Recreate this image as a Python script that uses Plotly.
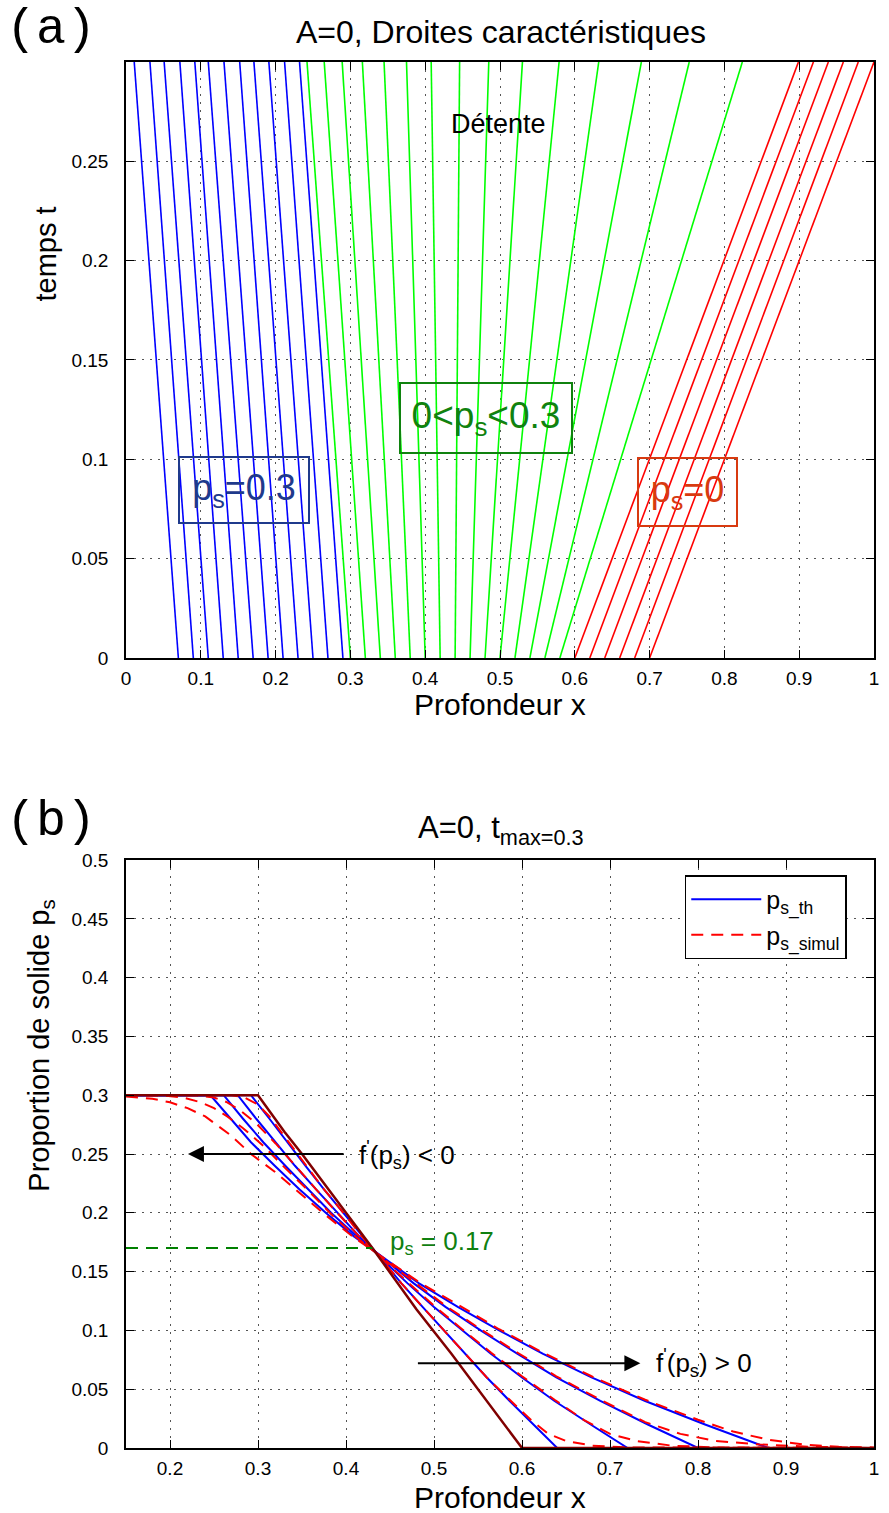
import plotly.graph_objects as go

# ---- (a) characteristic lines : position at t=0 and at t=0.3
t_span = [0.0, 0.3]
blue_x0 = [0.07, 0.09, 0.11, 0.13, 0.15, 0.17, 0.19, 0.21, 0.23, 0.25, 0.27, 0.29]
blue_x1 = [0.011, 0.032, 0.051, 0.072, 0.092, 0.110, 0.131, 0.152, 0.171, 0.191, 0.212, 0.232]
green_x0 = [0.30, 0.32, 0.34, 0.36, 0.38, 0.40, 0.42, 0.44, 0.46, 0.48, 0.50, 0.52, 0.54, 0.56, 0.58]
green_x1 = [0.242, 0.265, 0.289, 0.316, 0.345, 0.375, 0.408, 0.446, 0.485, 0.530, 0.579, 0.632, 0.689, 0.753, 0.824]
red_x0 = [0.60, 0.62, 0.64, 0.66, 0.68, 0.70]
red_x1 = [0.899, 0.919, 0.939, 0.959, 0.979, 1.0]

# ---- (b) profils p_s(x) a differents temps
init_x = [0.15, 0.30, 0.33, 0.35, 0.43, 0.48, 0.52, 0.60, 1.0]
init_p = [0.30, 0.30, 0.269, 0.250, 0.170, 0.118, 0.080, 0.0, 0.0]

th_p = [0.30, 0.30, 0.28, 0.26, 0.24, 0.22, 0.20, 0.18, 0.16, 0.14, 0.12, 0.10, 0.08, 0.06, 0.04, 0.02, 0.0, 0.0]
th_x_1 = [0.15, 0.292, 0.313, 0.333, 0.354, 0.375, 0.397, 0.418, 0.441, 0.463, 0.487, 0.511, 0.535, 0.560, 0.586, 0.613, 0.640, 1.0]
th_x_2 = [0.15, 0.277, 0.298, 0.320, 0.342, 0.366, 0.390, 0.415, 0.442, 0.470, 0.500, 0.532, 0.565, 0.600, 0.637, 0.678, 0.720, 1.0]
th_x_3 = [0.15, 0.261, 0.283, 0.306, 0.331, 0.357, 0.383, 0.412, 0.444, 0.477, 0.513, 0.553, 0.595, 0.639, 0.689, 0.743, 0.800, 1.0]
th_x_4 = [0.15, 0.246, 0.269, 0.292, 0.319, 0.347, 0.377, 0.409, 0.446, 0.483, 0.527, 0.574, 0.624, 0.679, 0.740, 0.808, 0.880, 1.0]

sim_x_1 = [0.15, 0.27, 0.285, 0.30, 0.313, 0.333, 0.354, 0.375, 0.397, 0.418, 0.441, 0.463, 0.487, 0.511, 0.535, 0.560, 0.586, 0.61, 0.63, 0.65, 0.68, 0.72, 1.0]
sim_p_1 = [0.30, 0.30, 0.298, 0.292, 0.282, 0.262, 0.241, 0.220, 0.200, 0.180, 0.160, 0.140, 0.120, 0.100, 0.080, 0.060, 0.041, 0.024, 0.012, 0.006, 0.002, 0.0005, 0.0]
sim_x_2 = [0.15, 0.23, 0.25, 0.265, 0.28, 0.298, 0.320, 0.342, 0.366, 0.390, 0.415, 0.442, 0.470, 0.500, 0.532, 0.565, 0.600, 0.637, 0.67, 0.70, 0.73, 0.77, 0.82, 1.0]
sim_p_2 = [0.30, 0.30, 0.298, 0.294, 0.287, 0.276, 0.259, 0.240, 0.220, 0.200, 0.180, 0.160, 0.141, 0.121, 0.101, 0.081, 0.061, 0.041, 0.024, 0.012, 0.006, 0.002, 0.0005, 0.0]
sim_x_3 = [0.15, 0.19, 0.215, 0.235, 0.25, 0.265, 0.283, 0.306, 0.331, 0.357, 0.383, 0.412, 0.444, 0.477, 0.513, 0.553, 0.595, 0.639, 0.689, 0.74, 0.78, 0.82, 0.87, 0.93, 1.0]
sim_p_3 = [0.30, 0.30, 0.298, 0.294, 0.289, 0.282, 0.272, 0.257, 0.238, 0.219, 0.199, 0.179, 0.160, 0.141, 0.121, 0.101, 0.081, 0.061, 0.041, 0.022, 0.012, 0.006, 0.003, 0.001, 0.0]
sim_x_4 = [0.15, 0.18, 0.20, 0.22, 0.24, 0.255, 0.269, 0.292, 0.319, 0.347, 0.377, 0.409, 0.446, 0.483, 0.527, 0.574, 0.624, 0.679, 0.740, 0.800, 0.84, 0.88, 0.92, 0.96, 1.0]
sim_p_4 = [0.299, 0.297, 0.294, 0.289, 0.282, 0.274, 0.266, 0.250, 0.235, 0.217, 0.198, 0.179, 0.160, 0.141, 0.122, 0.101, 0.081, 0.061, 0.041, 0.024, 0.014, 0.007, 0.003, 0.001, 0.0005]

ps_star = 0.17
ps_star_x = [0.15, 0.43]

FONT = "Liberation Sans, Arial, sans-serif"
MONO = "Liberation Mono, Courier New, monospace"

fig = go.Figure()

# (a)
for x0s, x1s, col in [(blue_x0, blue_x1, "#0000ff"), (green_x0, green_x1, "#00ff00"), (red_x0, red_x1, "#ff0000")]:
    for a, b in zip(x0s, x1s):
        fig.add_trace(go.Scatter(x=[a, b], y=t_span, mode="lines", line=dict(color=col, width=1.6),
                                 showlegend=False, xaxis="x", yaxis="y", hoverinfo="skip"))

# (b)
for i, xs in enumerate([th_x_1, th_x_2, th_x_3, th_x_4]):
    fig.add_trace(go.Scatter(x=xs, y=th_p, mode="lines", line=dict(color="#0000ff", width=2),
                             name="p<sub>s_th</sub>", showlegend=(i == 0), legendrank=1,
                             xaxis="x2", yaxis="y2"))
for i, (xs, ps) in enumerate([(sim_x_1, sim_p_1), (sim_x_2, sim_p_2), (sim_x_3, sim_p_3), (sim_x_4, sim_p_4)]):
    fig.add_trace(go.Scatter(x=xs, y=ps, mode="lines", line=dict(color="#ff0000", width=2, dash="12px,8px"),
                             name="p<sub>s_simul</sub>", showlegend=(i == 0), legendrank=2,
                             xaxis="x2", yaxis="y2"))
fig.add_trace(go.Scatter(x=init_x, y=init_p, mode="lines", line=dict(color="#800000", width=2.5),
                         showlegend=False, xaxis="x2", yaxis="y2"))
fig.add_trace(go.Scatter(x=ps_star_x, y=[ps_star, ps_star], mode="lines",
                         line=dict(color="#008000", width=2, dash="12px,8px"),
                         showlegend=False, xaxis="x2", yaxis="y2"))

axis_common = dict(showline=True, linecolor="black", linewidth=1.5, mirror="ticks",
                   ticks="inside", ticklen=8, tickcolor="black", showgrid=True,
                   gridcolor="#555555", griddash="2px,6px", gridwidth=1, zeroline=False,
                   tickfont=dict(family=FONT, size=19, color="black"))

top_tx = [0, 0.1, 0.2, 0.3, 0.4, 0.5, 0.6, 0.7, 0.8, 0.9, 1]
top_tx_lab = ["0", "0.1", "0.2", "0.3", "0.4", "0.5", "0.6", "0.7", "0.8", "0.9", "1"]
top_ty = [0, 0.05, 0.1, 0.15, 0.2, 0.25]
top_ty_lab = ["0", "0.05", "0.1", "0.15", "0.2", "0.25"]
bot_tx = [0.2, 0.3, 0.4, 0.5, 0.6, 0.7, 0.8, 0.9, 1]
bot_tx_lab = ["0.2", "0.3", "0.4", "0.5", "0.6", "0.7", "0.8", "0.9", "1"]
bot_ty = [0, 0.05, 0.1, 0.15, 0.2, 0.25, 0.3, 0.35, 0.4, 0.45, 0.5]
bot_ty_lab = ["0", "0.05", "0.1", "0.15", "0.2", "0.25", "0.3", "0.35", "0.4", "0.45", "0.5"]

fig.update_layout(
    width=889, height=1513,
    margin=dict(l=126, r=10, t=62, b=65),
    plot_bgcolor="white", paper_bgcolor="white",
    font=dict(family=FONT, color="black"),
    xaxis=dict(axis_common, domain=[0, 1], range=[0, 1], tickvals=top_tx, ticktext=top_tx_lab,
               anchor="y", ticklabelstandoff=2),
    yaxis=dict(axis_common, domain=[0.570, 1], range=[0, 0.3], tickvals=top_ty, ticktext=top_ty_lab,
               anchor="x", ticklabelstandoff=12),
    xaxis2=dict(axis_common, domain=[0, 1], range=[0.15, 1], tickvals=bot_tx, ticktext=bot_tx_lab,
                anchor="y2", ticklabelstandoff=2),
    yaxis2=dict(axis_common, domain=[0, 0.4242], range=[0, 0.5], tickvals=bot_ty, ticktext=bot_ty_lab,
                anchor="x2", ticklabelstandoff=12),
    legend=dict(x=0.747, y=0.4134, xanchor="left", yanchor="top", bgcolor="white",
                bordercolor="black", borderwidth=1.5, font=dict(family=FONT, size=25),
                itemwidth=70, tracegroupgap=0),
)


def paper_text(text, x, y, size, angle=0, family=FONT, color="black"):
    return dict(text=text, x=x, y=y, xref="paper", yref="paper", xanchor="center", yanchor="middle",
                showarrow=False, textangle=angle, font=dict(family=family, size=size, color=color))


ann = [
    paper_text("A=0, Droites caractéristiques", 0.5007, 1.0217, 32),
    paper_text("(a)", -0.0996, 1.0231, 50, family=MONO),
    paper_text("Profondeur x", 0.5, 0.5361, 30),
    paper_text("temps t", -0.1076, 0.8615, 29, angle=-90),
    paper_text("A=0, t<sub>max=0.3</sub>", 0.5007, 0.4459, 31),
    paper_text("(b)", -0.0996, 0.4517, 50, family=MONO),
    paper_text("Profondeur x", 0.5, -0.0354, 30),
    paper_text("Proportion de solide p<sub>s</sub>", -0.1142, 0.2900, 29, angle=-90),
]

# (a) boxes
ann.append(dict(text="Détente", x=0.498, y=0.269, xref="x", yref="y", showarrow=False, font=dict(size=27)))
ann.append(dict(text="p<sub>s</sub>=0.3", x=0.158, y=0.0846, xref="x", yref="y", showarrow=False,
                font=dict(size=36, color="#1f3a8c"), bordercolor="#1f3a8c", borderwidth=2,
                width=126, height=62, bgcolor="rgba(0,0,0,0)"))
ann.append(dict(text="0&lt;p<sub>s</sub>&lt;0.3", x=0.481, y=0.1207, xref="x", yref="y", showarrow=False,
                font=dict(size=37, color="#10820f"), bordercolor="#10820f", borderwidth=2,
                width=168, height=66, bgcolor="rgba(0,0,0,0)"))
ann.append(dict(text="p<sub>s</sub>=0", x=0.751, y=0.0838, xref="x", yref="y", showarrow=False,
                font=dict(size=36, color="#d83a10"), bordercolor="#d83a10", borderwidth=2,
                width=95, height=64, bgcolor="rgba(0,0,0,0)"))

# (b) arrows and labels
ann.append(dict(x=0.2204, y=0.25, ax=0.399, ay=0.25, xref="x2", yref="y2", axref="x2", ayref="y2",
                showarrow=True, arrowhead=2, arrowsize=1.6, arrowwidth=2, arrowcolor="black", text=""))
ann.append(dict(text="f<sup>'</sup>(p<sub>s</sub>) &lt; 0", x=0.413, y=0.249, xref="x2", yref="y2",
                xanchor="left", showarrow=False, font=dict(size=26)))
ann.append(dict(x=0.7345, y=0.072, ax=0.480, ay=0.072, xref="x2", yref="y2", axref="x2", ayref="y2",
                showarrow=True, arrowhead=2, arrowsize=1.6, arrowwidth=2, arrowcolor="black", text=""))
ann.append(dict(text="f<sup>'</sup>(p<sub>s</sub>) &gt; 0", x=0.7497, y=0.072, xref="x2", yref="y2",
                xanchor="left", showarrow=False, font=dict(size=26)))
ann.append(dict(text="p<sub>s</sub> = 0.17", x=0.448, y=0.175, xref="x2", yref="y2", xanchor="left",
                showarrow=False, font=dict(size=26, color="#108010")))

fig.update_layout(annotations=ann)
fig.write_html("out.html", config={"displayModeBar": False},
               post_script="document.body.style.margin='0px';document.body.style.overflow='hidden';")
